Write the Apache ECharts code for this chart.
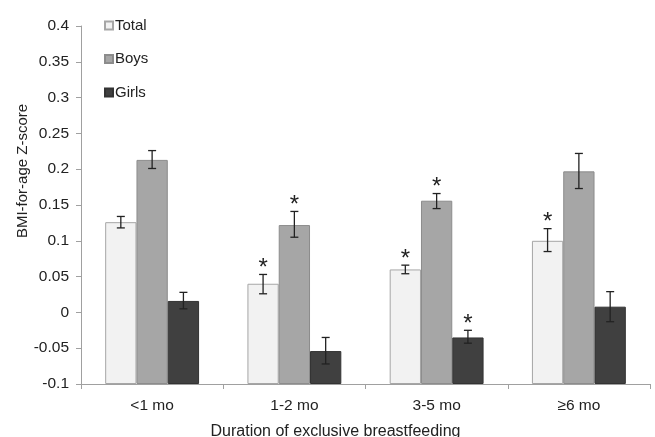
<!DOCTYPE html>
<html><head><meta charset="utf-8">
<script src="https://cdn.jsdelivr.net/npm/echarts@6/dist/echarts.min.js"></script>
<style>html,body{margin:0;padding:0;background:#fff}#c{width:655px;height:437px}</style>
</head><body><div id="c"></div>
<script>
const categories = ['<1 mo', '1-2 mo', '3-5 mo', '≥6 mo'];
const seriesNames = ['Total', 'Boys', 'Girls'];
const totalVals = [0.126, 0.040, 0.060, 0.100];
const boysVals = [0.213, 0.122, 0.156, 0.197];
const girlsVals = [0.016, -0.054, -0.035, 0.008];
const totalLow = [0.118, 0.026, 0.054, 0.085];
const totalHigh = [0.134, 0.053, 0.066, 0.117];
const boysLow = [0.201, 0.105, 0.145, 0.173];
const boysHigh = [0.226, 0.141, 0.166, 0.222];
const girlsLow = [0.005, -0.072, -0.043, -0.013];
const girlsHigh = [0.028, -0.035, -0.025, 0.029];
const totalStar = [false, true, true, true];
const boysStar = [false, true, true, false];
const girlsStar = [false, false, true, false];
const yTicks = [-0.1, -0.05, 0, 0.05, 0.1, 0.15, 0.2, 0.25, 0.3, 0.35, 0.4];

const vals = [totalVals, boysVals, girlsVals];
const lows = [totalLow, boysLow, girlsLow];
const highs = [totalHigh, boysHigh, girlsHigh];
const stars = [totalStar, boysStar, girlsStar];
const colors = ['#f2f2f2', '#a6a6a6', '#404040'];
const borders = ['#a6a6a6', '#8c8c8c', '#333333'];
const gapFrac = 0.34;

const errData = [];
for (let s = 0; s < 3; s++) {
  for (let i = 0; i < categories.length; i++) {
    errData.push([i, lows[s][i], highs[s][i], s, stars[s][i] ? 1 : 0]);
  }
}

const chart = echarts.init(document.getElementById('c'));
const font = 'Liberation Sans, Arial, sans-serif';
chart.setOption({
  animation: false,
  grid: { left: 81, right: 5, top: 26, bottom: 53, outerBoundsMode: 'none', containLabel: false },
  legend: {
    orient: 'vertical', left: 99, top: 13, itemWidth: 8, itemHeight: 8, itemGap: 18.5,
    icon: 'rect', data: seriesNames,
    textStyle: { fontFamily: font, fontSize: 15, color: '#222', padding: [0, 0, 0, -3] }
  },
  xAxis: {
    type: 'category', data: categories,
    name: 'Duration of exclusive breastfeeding', nameLocation: 'middle', nameGap: 40,
    nameMoveOverlap: false,
    nameTextStyle: { fontFamily: font, fontSize: 16, color: '#222', padding: [0, 60, 0, 0] },
    axisLine: { onZero: false, lineStyle: { color: '#a0a0a0', width: 1 } },
    axisTick: { show: true, alignWithLabel: false, length: 5, lineStyle: { color: '#a0a0a0' } },
    axisLabel: { fontFamily: font, fontSize: 15.5, color: '#222', margin: 14 }
  },
  yAxis: {
    type: 'value', min: -0.1, max: 0.4, interval: 0.05, startValue: -0.1,
    name: 'BMI-for-age Z-score', nameLocation: 'middle', nameGap: 51, nameRotate: 90,
    nameMoveOverlap: false,
    nameTextStyle: { fontFamily: font, fontSize: 15, color: '#222', padding: [0, 0, 0, 68] },
    axisLine: { show: true, lineStyle: { color: '#a0a0a0', width: 1 } },
    axisTick: { show: true, length: 5, lineStyle: { color: '#a0a0a0' } },
    splitLine: { show: false },
    axisLabel: { fontFamily: font, fontSize: 15.5, color: '#222', margin: 12,
      formatter: v => String(Math.round(v * 100) / 100) }
  },
  series: [
    ...seriesNames.map((n, s) => ({
      name: n, type: 'bar', data: vals[s], barGap: '0%', barCategoryGap: (gapFrac * 100) + '%',
      itemStyle: { color: colors[s], borderColor: borders[s], borderWidth: 1 },
      z: 2
    })),
    {
      type: 'custom', data: errData, z: 5,
      encode: { x: 0, y: [1, 2] },
      renderItem: function (params, api) {
        const i = api.value(0), lo = api.value(1), hi = api.value(2), s = api.value(3), st = api.value(4);
        const band = api.size([1, 0])[0];
        const bw = band * (1 - gapFrac) / 3;
        const cx = api.coord([i, 0])[0] + (s - 1) * bw;
        const yl = api.coord([i, lo])[1];
        const yh = api.coord([i, hi])[1];
        const cap = 4;
        const style = { stroke: '#222', lineWidth: 1.3 };
        const children = [
          { type: 'line', shape: { x1: cx, y1: yl, x2: cx, y2: yh }, style },
          { type: 'line', shape: { x1: cx - cap, y1: yl, x2: cx + cap, y2: yl }, style },
          { type: 'line', shape: { x1: cx - cap, y1: yh, x2: cx + cap, y2: yh }, style }
        ];
        if (st) {
          children.push({ type: 'text', style: { text: '*', x: cx, y: yh + 6, align: 'center',
            verticalAlign: 'bottom', fontFamily: font, fontSize: 24, fill: '#222' } });
        }
        return { type: 'group', children };
      }
    }
  ]
});
</script></body></html>
